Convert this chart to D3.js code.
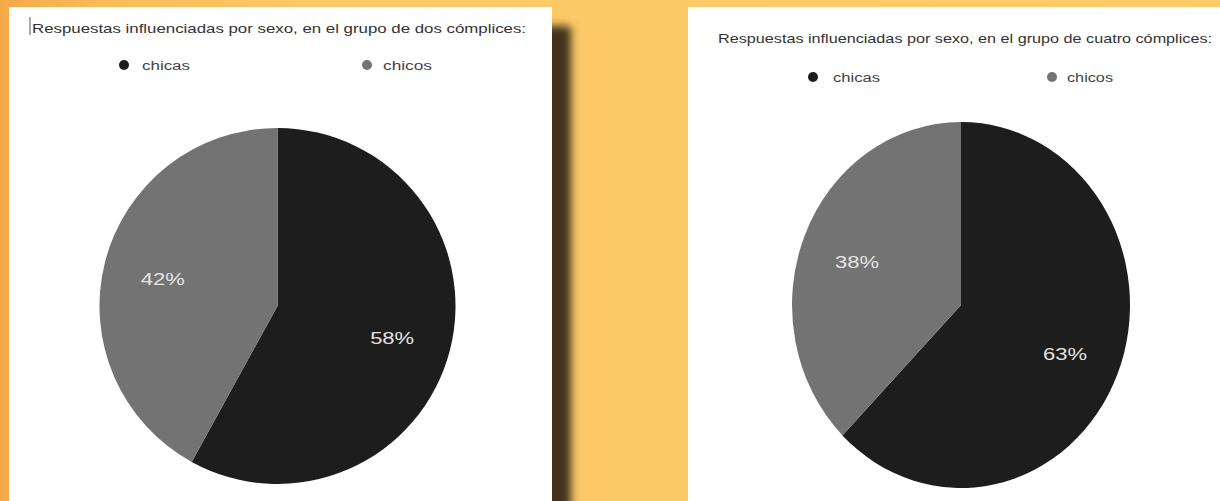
<!DOCTYPE html>
<html>
<head>
<meta charset="utf-8">
<script src="https://cdn.jsdelivr.net/npm/d3@7"></script>
<style>
  html, body { margin: 0; padding: 0; overflow: hidden; background: #fecb69; }
  svg { display: block; }
</style>
</head>
<body>
<svg id="chart" width="1220" height="501"></svg>
<script>
// Categories and values for each group
const categories = ["chicas", "chicos"];
const twoAccomplices = [58, 42];
const fourAccomplices = [63, 38];
const titles = [
  "Respuestas influenciadas por sexo, en el grupo de dos cómplices:",
  "Respuestas influenciadas por sexo, en el grupo de cuatro cómplices:"
];
const sliceColors = ["#1d1d1d", "#737373"];

const svg = d3.select("#chart");
const W = 1220, H = 501;
const defs = svg.append("defs");

// warm background: orange on the far left fading into yellow
const bg = defs.append("linearGradient").attr("id", "bg").attr("x1", 0).attr("x2", 1).attr("y1", 0).attr("y2", 0);
bg.append("stop").attr("offset", "0%").attr("stop-color", "#f4a949");
bg.append("stop").attr("offset", "8%").attr("stop-color", "#f9bb5a");
bg.append("stop").attr("offset", "25%").attr("stop-color", "#fdc866");
bg.append("stop").attr("offset", "100%").attr("stop-color", "#fecb69");
svg.append("rect").attr("width", W).attr("height", H).attr("fill", "url(#bg)");

const blur = defs.append("filter").attr("id", "shadowBlur")
  .attr("x", "-50%").attr("y", "-10%").attr("width", "200%").attr("height", "120%");
blur.append("feGaussianBlur").attr("stdDeviation", 4);

const color = d3.scaleOrdinal().domain(categories).range(sliceColors);

// panel layout
const panels = [
  {
    values: twoAccomplices, title: titles[0],
    box: { x: 9, y: 7, w: 543, h: 520 }, shadow: true, cursor: true,
    title_: { x: 32, y: 33, len: 494 },
    legend: [{ cx: 124, cy: 65, tx: 142, len: 48 }, { cx: 367, cy: 65, tx: 383, len: 49 }],
    pie: { cx: 277.5, cy: 306, r: 178, sx: 1 }
  },
  {
    values: fourAccomplices, title: titles[1],
    box: { x: 688, y: 7, w: 540, h: 520 }, shadow: false, cursor: false,
    title_: { x: 718, y: 43, len: 494 },
    legend: [{ cx: 813, cy: 77, tx: 833, len: 47 }, { cx: 1052, cy: 77, tx: 1067, len: 46 }],
    pie: { cx: 961, cy: 305, r: 183, sx: 169 / 183 }
  }
];

const pie = d3.pie().sort(null).value(d => d);

panels.forEach(p => {
  if (p.shadow) {
    svg.append("rect")
      .attr("x", p.box.x + p.box.w - 40).attr("y", 26)
      .attr("width", 59).attr("height", H + 20)
      .attr("rx", 4)
      .attr("fill", "#40321a")
      .attr("filter", "url(#shadowBlur)");
  }
  svg.append("rect")
    .attr("x", p.box.x).attr("y", p.box.y)
    .attr("width", p.box.w).attr("height", p.box.h)
    .attr("fill", "#ffffff");

  if (p.cursor) {
    svg.append("line")
      .attr("x1", p.title_.x - 2).attr("x2", p.title_.x - 2)
      .attr("y1", 17).attr("y2", 35)
      .attr("stroke", "#555").attr("stroke-width", 1);
  }

  svg.append("text")
    .attr("x", p.title_.x).attr("y", p.title_.y)
    .attr("font-family", "Liberation Sans, Arial, sans-serif")
    .attr("font-size", 13)
    .attr("fill", "#333")
    .attr("textLength", p.title_.len)
    .attr("lengthAdjust", "spacingAndGlyphs")
    .text(p.title);

  // legend
  categories.forEach((c, i) => {
    const L = p.legend[i];
    svg.append("circle")
      .attr("cx", L.cx).attr("cy", L.cy).attr("r", 5)
      .attr("fill", color(c));
    svg.append("text")
      .attr("x", L.tx).attr("y", L.cy + 4.5)
      .attr("font-family", "Liberation Sans, Arial, sans-serif")
      .attr("font-size", 12.5)
      .attr("fill", "#444")
      .attr("textLength", L.len)
      .attr("lengthAdjust", "spacingAndGlyphs")
      .text(c);
  });

  // pie slices, clockwise from 12 o'clock
  const arcs = pie(p.values);
  const arc = d3.arc().innerRadius(0).outerRadius(p.pie.r);
  const labelArc = d3.arc().innerRadius(p.pie.r * 0.665).outerRadius(p.pie.r * 0.665);

  svg.append("g")
    .attr("transform", `translate(${p.pie.cx},${p.pie.cy}) scale(${p.pie.sx},1)`)
    .selectAll("path")
    .data(arcs)
    .join("path")
    .attr("d", arc)
    .attr("fill", (d, i) => color(categories[i]));

  svg.append("g")
    .attr("transform", `translate(${p.pie.cx},${p.pie.cy + 3})`)
    .selectAll("text")
    .data(arcs)
    .join("text")
    .attr("x", d => labelArc.centroid(d)[0] * p.pie.sx)
    .attr("y", d => labelArc.centroid(d)[1])
    .attr("dy", "0.36em")
    .attr("text-anchor", "middle")
    .attr("font-family", "Liberation Sans, Arial, sans-serif")
    .attr("font-size", 16)
    .attr("fill", "#e4e4e4")
    .attr("textLength", 44)
    .attr("lengthAdjust", "spacingAndGlyphs")
    .text(d => d.data + "%");
});
</script>
</body>
</html>
